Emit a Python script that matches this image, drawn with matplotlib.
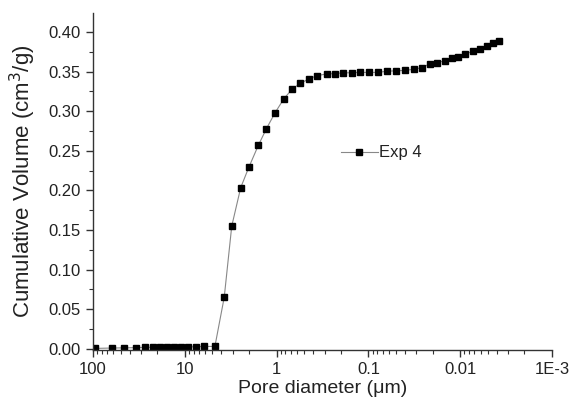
import numpy as np
import matplotlib
matplotlib.use("Agg")
from matplotlib import pyplot as plt
from matplotlib.ticker import LogLocator, FixedLocator, FixedFormatter, MultipleLocator, FormatStrFormatter

plt.rcParams['font.family'] = ['Liberation Sans', 'DejaVu Sans']

# pore diameter (um) and cumulative volume (cm3/g)
diameter = [95, 62, 46, 34, 27, 22, 18.6, 15.6, 13.1, 11, 9.2, 7.5, 6.2, 4.7,
            3.72, 3.08, 2.46, 2.01, 1.58, 1.29, 1.04, 0.83, 0.675, 0.556,
            0.44, 0.36, 0.285, 0.231, 0.188, 0.152, 0.124, 0.0985, 0.078,
            0.063, 0.050, 0.040, 0.0318, 0.0262, 0.0213, 0.018, 0.0146,
            0.0124, 0.0105, 0.0089, 0.0072, 0.0061, 0.0051, 0.0044, 0.0038]
volume = [0.0005, 0.001, 0.0012, 0.0015, 0.0018, 0.002, 0.002, 0.002, 0.0022,
          0.0022, 0.0025, 0.0025, 0.003, 0.003,
          0.065, 0.155, 0.2035, 0.229, 0.257, 0.278, 0.298, 0.316, 0.328, 0.335,
          0.341, 0.345, 0.347, 0.3475, 0.3485, 0.3485, 0.349, 0.349, 0.349,
          0.3505, 0.351, 0.3515, 0.353, 0.355, 0.360, 0.3615, 0.3635,
          0.3666, 0.369, 0.372, 0.376, 0.379, 0.3826, 0.386, 0.389]

xticks = [100, 10, 1, 0.1, 0.01, 0.001]
xticklabels = ["100", "10", "1", "0.1", "0.01", "1E-3"]

txt = '#222222'
fig = plt.figure(figsize=(5.72, 4.03), dpi=100)
ax = fig.add_axes([93/572, 53/403, 459/572, 337/403])

ax.plot(diameter, volume, color='#888888', lw=0.8, marker='s', ms=5,
        mfc='black', mec='black', label='Exp 4')

ax.set_xscale('log')
ax.set_xlim(100, 0.001)
ax.set_ylim(-0.0015, 0.424)

ax.xaxis.set_major_locator(FixedLocator(xticks))
ax.xaxis.set_major_formatter(FixedFormatter(xticklabels))
ax.xaxis.set_minor_locator(LogLocator(base=10, subs=np.arange(2, 10)))
ax.yaxis.set_major_locator(MultipleLocator(0.05))
ax.yaxis.set_minor_locator(MultipleLocator(0.025))
ax.yaxis.set_major_formatter(FormatStrFormatter('%.2f'))

for s in ['top', 'right']:
    ax.spines[s].set_visible(False)
for s in ['left', 'bottom']:
    ax.spines[s].set_linewidth(1.0)
    ax.spines[s].set_color('#333333')

ax.tick_params(which='major', direction='out', length=5, width=1, colors='#333333',
               labelsize=12, labelcolor=txt, pad=4)
ax.tick_params(which='minor', direction='out', length=3, width=0.8, colors='#333333')

ax.set_xlabel('Pore diameter (\u03bcm)', fontsize=14, color=txt, labelpad=2)
ax.set_ylabel('Cumulative Volume (cm$^3$/g)', fontsize=16, color=txt, labelpad=7)

ax.legend(loc='center left', bbox_to_anchor=(0.54, 0.585), frameon=False,
          fontsize=12, handlelength=2.2, handletextpad=0.1, borderpad=0,
          borderaxespad=0, labelcolor=txt)

fig.savefig('out.png', dpi=100)
